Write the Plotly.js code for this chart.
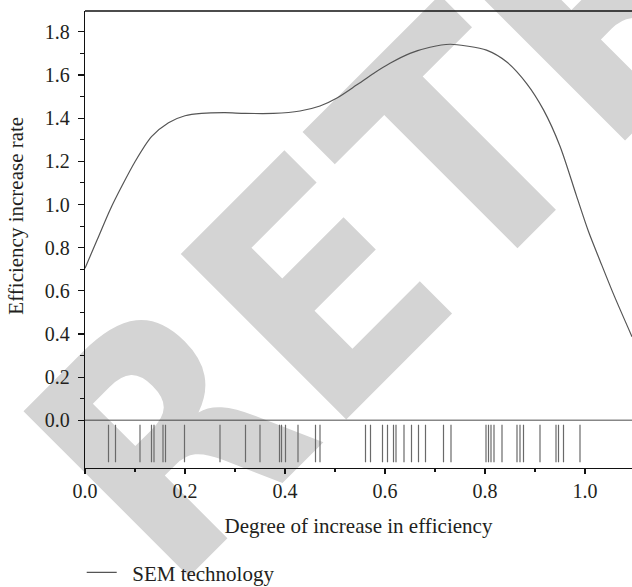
<!DOCTYPE html>
<html>
<head>
<meta charset="utf-8">
<script src="https://cdn.plot.ly/plotly-3.0.1.min.js"></script>
<style>html,body{margin:0;padding:0;background:#fff;}#chart{width:632px;height:587px;}</style>
</head>
<body>
<div id="chart"></div>
<script>
// Density curve of "SEM technology"
const curveX = [0, 0.025, 0.05, 0.073, 0.1, 0.133, 0.167, 0.2, 0.233, 0.28, 0.32, 0.377, 0.43, 0.47, 0.503, 0.543, 0.577, 0.61, 0.65, 0.69, 0.73, 0.763, 0.803, 0.843, 0.883, 0.917, 0.95, 0.983, 1.007, 1.03, 1.057, 1.094];
const curveY = [0.705, 0.84, 0.975, 1.082, 1.198, 1.314, 1.379, 1.411, 1.422, 1.425, 1.422, 1.422, 1.433, 1.456, 1.492, 1.553, 1.607, 1.654, 1.7, 1.728, 1.742, 1.734, 1.715, 1.661, 1.561, 1.438, 1.27, 1.04, 0.875, 0.74, 0.585, 0.388];
// Rug observations
const rugX = [0.047, 0.061, 0.110, 0.133, 0.138, 0.156, 0.161, 0.199, 0.270, 0.321, 0.350, 0.389, 0.393, 0.401, 0.426, 0.461, 0.470, 0.561, 0.571, 0.595, 0.605, 0.617, 0.622, 0.638, 0.653, 0.667, 0.681, 0.717, 0.732, 0.802, 0.807, 0.812, 0.818, 0.834, 0.864, 0.870, 0.877, 0.910, 0.942, 0.947, 0.957, 0.990];
const seriesName = 'SEM technology';
const xTitle = 'Degree of increase in efficiency';
const yTitle = 'Efficiency increase rate';
const watermark = 'RETRACTED';

const serif = 'Liberation Serif, "DejaVu Serif", serif';
const ink = '#231f20';

const rx = [], ry = [];
rugX.forEach(v => { rx.push(v, v, null); ry.push(0.12, 0.91, null); });

const traces = [
  {x: curveX, y: curveY, type: 'scatter', mode: 'lines', name: '\u00a0\u00a0' + seriesName,
   line: {color: '#555555', width: 1.2, shape: 'spline', smoothing: 0.8},
   xaxis: 'x', yaxis: 'y', showlegend: true},
  {x: rx, y: ry, type: 'scatter', mode: 'lines', line: {color: '#6a6a6a', width: 1.2},
   xaxis: 'x', yaxis: 'y2', showlegend: false, hoverinfo: 'skip'}
];

const layout = {
  width: 632, height: 587,
  margin: {l: 85, r: 0, t: 11, b: 119, autoexpand: false},
  paper_bgcolor: '#ffffff', plot_bgcolor: 'rgba(0,0,0,0)',
  font: {family: serif, color: ink, size: 20},
  showlegend: true,
  legend: {orientation: 'h', x: -0.006, xanchor: 'left', y: -0.229, yanchor: 'middle',
           font: {family: serif, size: 21, color: ink}, bgcolor: 'rgba(0,0,0,0)'},
  xaxis: {anchor: 'y2', range: [0, 1.094], dtick: 0.2, tick0: 0, tickformat: '.1f',
          showgrid: false, zeroline: false, showline: true, linecolor: '#111', linewidth: 1.3,
          ticks: 'outside', ticklen: 5, tickwidth: 1.2, tickcolor: '#111',
          minor: {dtick: 0.1, tick0: 0, ticks: 'outside', ticklen: 3, tickwidth: 1.1, tickcolor: '#111'},
          tickfont: {size: 20, family: serif, color: ink},
          title: {text: xTitle, font: {size: 21, family: serif, color: ink}, standoff: 17}},
  yaxis: {domain: [0.104, 1], range: [0, 1.896], dtick: 0.2, tick0: 0, tickformat: '.1f',
          showgrid: false, zeroline: false, showline: true, linecolor: '#111', linewidth: 1.3,
          ticks: 'outside', ticklen: 6, tickwidth: 1.2, tickcolor: '#111', ticklabelstandoff: 4,
          minor: {dtick: 0.1, tick0: 0, ticks: 'outside', ticklen: 3.5, tickwidth: 1.1, tickcolor: '#111'},
          tickfont: {size: 20, family: serif, color: ink},
          title: {text: yTitle, font: {size: 21, family: serif, color: ink}, standoff: 15}},
  yaxis2: {domain: [0, 0.104], range: [0, 1], showgrid: false, zeroline: false,
           showline: true, linecolor: '#111', linewidth: 1.3, showticklabels: false, ticks: ''},
  shapes: [
    {type: 'rect', xref: 'paper', yref: 'paper', x0: 1.2063, x1: 1.2263, y0: 1.3953, y1: 1.4153,
     line: {width: 0}, fillcolor: 'rgba(0,0,0,0)', layer: 'below',
     label: {text: watermark, textangle: -45, textposition: 'middle center', padding: 0,
             font: {family: '"DejaVu Sans Condensed", sans-serif', size: 321, color: '#d4d4d4', weight: 'bold'}}},
    {type: 'line', xref: 'paper', yref: 'y', x0: 0, x1: 1, y0: 0, y1: 0,
     line: {color: '#111', width: 1.3}, layer: 'above'},
    {type: 'line', xref: 'paper', yref: 'paper', x0: 0, x1: 1, y0: 1, y1: 1,
     line: {color: '#111', width: 1.3}, layer: 'above'}
  ]
};

Plotly.newPlot('chart', traces, layout, {staticPlot: true, displayModeBar: false});
</script>
</body>
</html>
